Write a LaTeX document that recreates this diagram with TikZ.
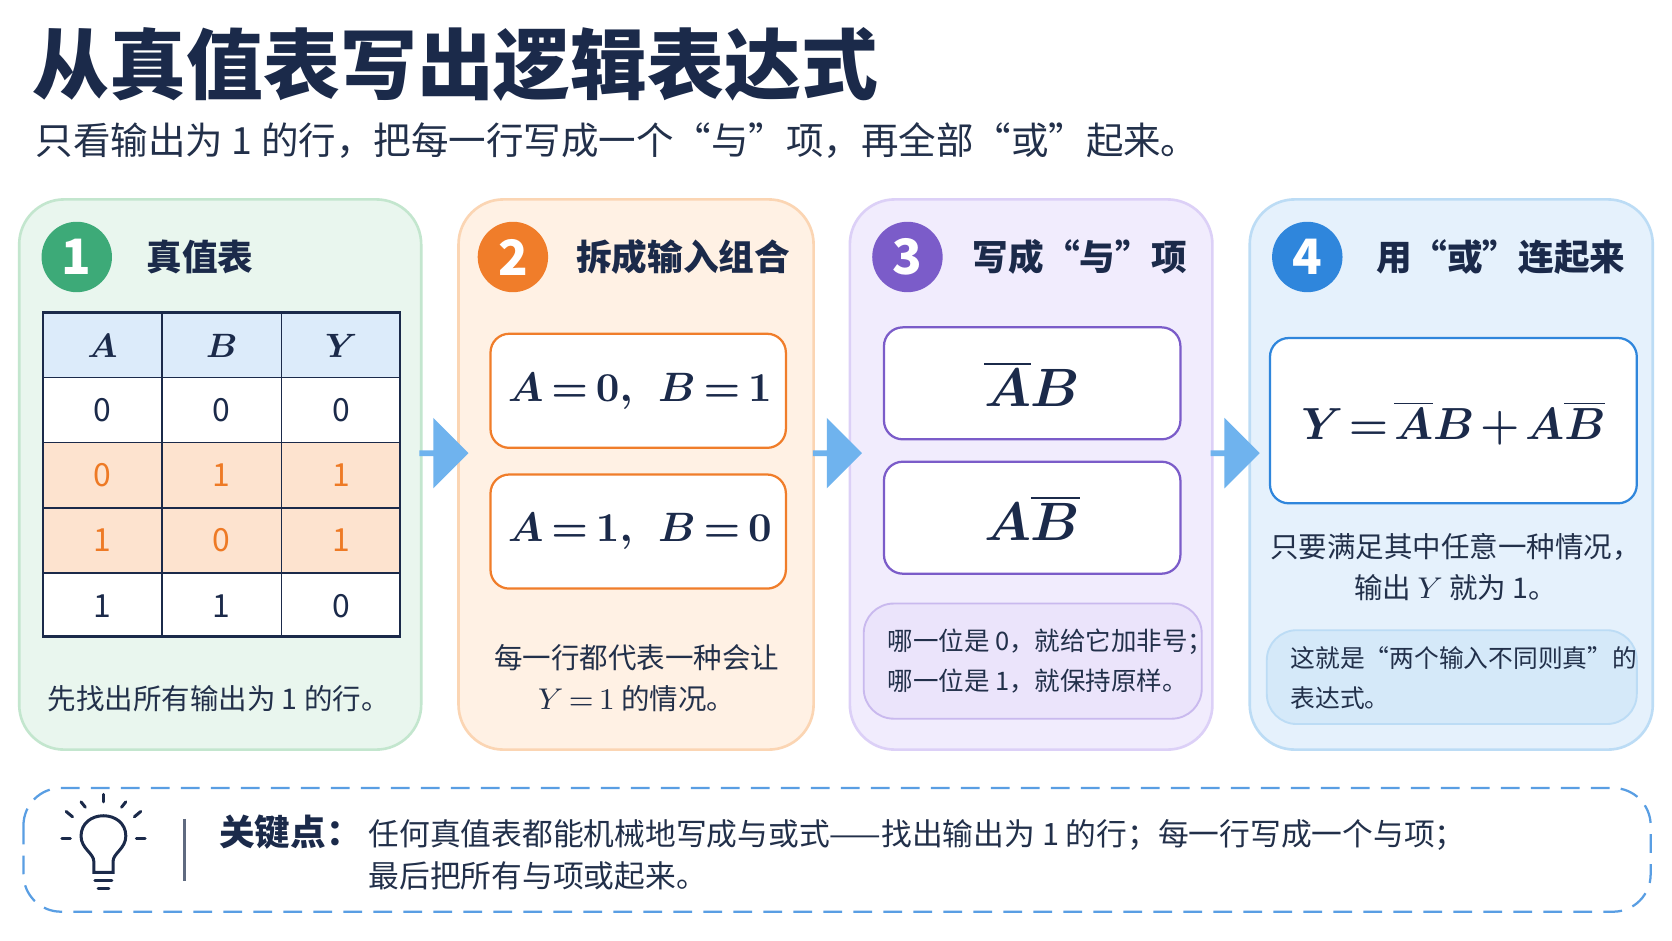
\documentclass[tikz,border=0pt]{standalone}
\usepackage{fontspec}
\setmainfont{Noto Sans CJK SC}
\usetikzlibrary{shapes.arrows}
\definecolor{navy}{HTML}{1B2A4A}
\definecolor{txt}{HTML}{22304A}
\definecolor{gF}{HTML}{E9F6EE}\definecolor{gB}{HTML}{C3E6CE}\definecolor{gC}{HTML}{3DAA78}
\definecolor{oF}{HTML}{FFF1E4}\definecolor{oB}{HTML}{FBD5B3}\definecolor{oC}{HTML}{F07D2A}
\definecolor{pF}{HTML}{F1ECFD}\definecolor{pB}{HTML}{DCD0F7}\definecolor{pC}{HTML}{7B5CC9}
\definecolor{bF}{HTML}{E5F1FC}\definecolor{bB}{HTML}{BCDCF5}\definecolor{bC}{HTML}{2F86DC}
\definecolor{arr}{HTML}{6FB3EE}\definecolor{hdr}{HTML}{DCEBFA}\definecolor{hl}{HTML}{FDE3CF}
\definecolor{tOr}{HTML}{EE7A25}
\begin{document}
\begin{tikzpicture}[x=0.01cm,y=-0.01cm,
 panel/.style={rounded corners=12pt,line width=0.7pt},
 num/.style={circle,minimum size=0.66cm,inner sep=0pt,text=white,font=\fontsize{13}{13}\selectfont\bfseries},
 head/.style={anchor=west,text=navy,font=\fontsize{9.5}{10}\selectfont\bfseries},
 captxt/.style={text=txt,font=\fontsize{7.6}{11}\selectfont,align=center},
 note/.style={text=txt,font=\fontsize{6.8}{10.5}\selectfont,align=left,anchor=west},
 wbox/.style={fill=white,rounded corners=5pt,line width=0.6pt},
 bigm/.style={text=navy,font=\fontsize{10.5}{11}\selectfont\boldmath},
 arrow/.style={single arrow,fill=arr,draw=none,minimum height=0.46cm,minimum width=0.66cm,single arrow head extend=0.08cm,inner sep=0pt},
 cell/.style={font=\fontsize{8.5}{9}\selectfont,text=navy}]
\useasboundingbox (0,0) rectangle (1568,882);
\fill[white] (0,0) rectangle (1568,882);
\node[anchor=base west,text=navy,font=\fontsize{20.5}{21}\selectfont\bfseries,inner sep=0] (title) at (30,88) {从真值表写出逻辑表达式};
\node[anchor=base west,text=txt,font=\fontsize{10}{11}\selectfont,inner sep=0] (sub) at (33,145) {只看输出为 1 的行，把每一行写成一个“与”项，再全部“或”起来。};
% panels
\draw[panel,fill=gF,draw=gB] (18,187) rectangle (395,703);
\draw[panel,fill=oF,draw=oB] (430,187) rectangle (763,703);
\draw[panel,fill=pF,draw=pB] (797,187) rectangle (1137,703);
\draw[panel,fill=bF,draw=bB] (1172,187) rectangle (1550,703);
\node[num,fill=gC] (n1) at (72,241) {1};
\node[num,fill=oC] (n2) at (481,241) {2};
\node[num,fill=pC] (n3) at (851,241) {3};
\node[num,fill=bC] (n4) at (1226,241) {4};
\node[head] (h1) at (125,241) {真值表};
\node[head] (h2) at (528,241) {拆成输入组合};
\node[head] (h3) at (900,241) {写成“与”项};
\node[head] (h4) at (1278,241) {用“或”连起来};
% table
\fill[white] (40,293) rectangle (375,597);
\fill[hdr] (40,293) rectangle (375,354);
\fill[hl] (40,415) rectangle (375,537);
\draw[navy,line width=0.6pt] (40,293) rectangle (375,597);
\foreach \x in {152,264} \draw[navy,line width=0.5pt] (\x,293) -- (\x,597);
\foreach \y in {354,415,476,537} \draw[navy,line width=0.5pt] (40,\y) -- (375,\y);
\node[cell,font=\fontsize{9}{9}\selectfont\boldmath] (tA) at (96,324) {$A$};
\node[cell,font=\fontsize{9}{9}\selectfont\boldmath] (tB) at (208,324) {$B$};
\node[cell,font=\fontsize{9}{9}\selectfont\boldmath] (tY) at (320,324) {$Y$};
\node[cell] at (96,385) {0};\node[cell] at (208,385) {0};\node[cell] at (320,385) {0};
\node[cell,text=tOr] at (96,446) {0};\node[cell,text=tOr] at (208,446) {1};\node[cell,text=tOr] at (320,446) {1};
\node[cell,text=tOr] at (96,507) {1};\node[cell,text=tOr] at (208,507) {0};\node[cell,text=tOr] at (320,507) {1};
\node[cell] at (96,568) {1};\node[cell] at (208,568) {1};\node[cell] at (320,568) {0};
\node[captxt] (c1) at (205,655) {先找出所有输出为 1 的行。};
% arrows
\node[arrow] (a1) at (415,425) {};
\node[arrow] (a2) at (784,425) {};
\node[arrow] (a3) at (1157,425) {};
% panel 2
\draw[wbox,draw=oC] (460,313) rectangle (737,420);
\draw[wbox,draw=oC] (460,445) rectangle (737,552);
\node[bigm] (m1) at (600,367) {$A\mkern3mu{=}\mkern3mu0,\ \ B\mkern3mu{=}\mkern3mu1$};
\node[bigm] (m2) at (600,498) {$A\mkern3mu{=}\mkern3mu1,\ \ B\mkern3mu{=}\mkern3mu0$};
\node[captxt] (c2) at (597,636) {每一行都代表一种会让\\$Y\,{=}\,1$ 的情况。};
% panel 3
\draw[wbox,draw=pC] (829,307) rectangle (1107,412);
\draw[wbox,draw=pC] (829,433) rectangle (1107,538);
\node[bigm,font=\fontsize{15}{15}\selectfont\boldmath] (p1) at (968,360) {$\overline{A}B$};
\node[bigm,font=\fontsize{15}{15}\selectfont\boldmath] (p2) at (968,486) {$A\overline{B}$};
\draw[rounded corners=8pt,fill=pF!70!pB,draw=pB!80!pC,line width=0.5pt] (810,566) rectangle (1127,674);
\node[note] (nt3) at (820,620) {哪一位是 0，就给它加非号；\\哪一位是 1，就保持原样。};
% panel 4
\draw[wbox,draw=bC] (1191,317) rectangle (1535,472);
\node[bigm,font=\fontsize{12.5}{13}\selectfont\boldmath] (f) at (1363,397) {$Y\mkern2mu{=}\mkern2mu\overline{A}B\mkern2mu{+}\mkern2mu A\overline{B}$};
\node[captxt] (c4) at (1365,532) {只要满足其中任意一种情况，\\输出 $Y$ 就为 1。};
\draw[rounded corners=8pt,fill=bF!60!bB,draw=bB,line width=0.5pt] (1188,591) rectangle (1535,679);
\node[note,font=\fontsize{6.6}{10.5}\selectfont] (nt4) at (1198,636) {这就是“两个输入不同则真”的\\表达式。};
% bottom
\draw[dashed,dash pattern=on 5pt off 3pt,draw=bC!80,line width=0.6pt,rounded corners=10pt,fill=white] (22,739) rectangle (1548,855);
\begin{scope}[navy,line width=0.8pt,line cap=round]
\draw (88,818) -- (88,808) .. controls (88,800) and (76,796) .. (76,784) .. controls (76,772) and (86,765) .. (97,765) .. controls (108,765) and (118,772) .. (118,784) .. controls (118,796) and (106,800) .. (106,808) -- (106,818) -- cycle;
\draw (89,826) -- (105,826);\draw (92,833) -- (102,833);
\draw (97,745) -- (97,752);\draw (68,766) -- (62,761);\draw (126,766) -- (132,761);\draw (58,786) -- (66,786);\draw (128,786) -- (136,786);\draw (76,752) -- (80,757);\draw (118,752) -- (114,757);
\end{scope}
\draw[navy!70,line width=0.6pt] (173,768) -- (173,826);
\node[anchor=base west,text=navy,font=\fontsize{9.5}{10}\selectfont\bfseries,inner sep=0] (k) at (205,793) {关键点：};
\node[anchor=base west,text=txt,font=\fontsize{8.2}{10}\selectfont,inner sep=0] (k1) at (345,793) {任何真值表都能机械地写成与或式——找出输出为 1 的行；每一行写成一个与项；};
\node[anchor=base west,text=txt,font=\fontsize{8.2}{10}\selectfont,inner sep=0] (k2) at (345,832) {最后把所有与项或起来。};
\end{tikzpicture}
\end{document}
